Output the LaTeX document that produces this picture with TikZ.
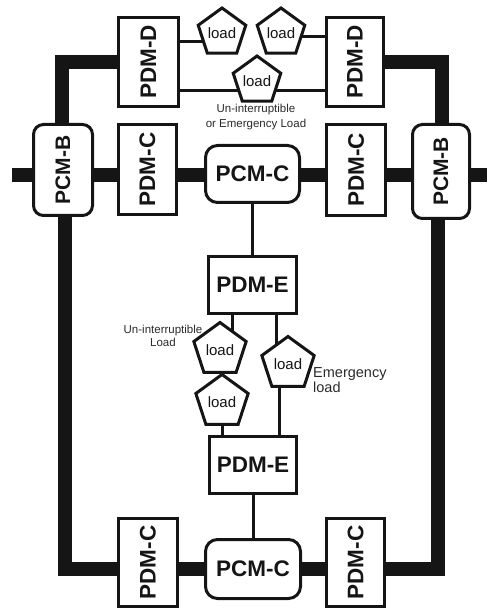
\documentclass[tikz,border=0pt]{standalone}
\usepackage{fontspec}
\setmainfont{Liberation Sans}
\usetikzlibrary{shapes.geometric}
\pgfdeclarelayer{bg}
\pgfsetlayers{bg,main}
\definecolor{ink}{HTML}{151515}
\definecolor{notegray}{HTML}{2A2A2A}
\tikzset{
  box/.style={draw=ink, line width=3pt, fill=white, inner sep=0pt,
    font=\bfseries\fontsize{22.5}{27}\selectfont, text=ink},
  pcm/.style={box, rounded corners=10pt},
  loadnode/.style={draw=ink, line width=3pt, fill=white, regular polygon,
    regular polygon sides=5, minimum size=50pt, inner sep=0pt,
    font=\fontsize{15}{17}\selectfont, text=ink},
  bigload/.style={loadnode, minimum size=55pt},
  bus/.style={draw=ink, line width=14pt, line join=miter},
  wire/.style={draw=ink, line width=3pt},
  note/.style={font=\fontsize{11.5}{15}\selectfont, text=notegray, align=center, inner sep=0pt}
}
\begin{document}
\begin{tikzpicture}[x=1pt,y=-1pt]
\useasboundingbox (0,0) rectangle (487,609);
% boxes
\node[box, minimum width=60pt, minimum height=89pt] (PDMDL) at (148.5,62) {\rotatebox{90}{PDM-D}};
\node[box, minimum width=57pt, minimum height=89pt] (PDMDR) at (355,62) {\rotatebox{90}{PDM-D}};
\node[pcm, minimum width=59pt, minimum height=91pt, font=\bfseries\fontsize{21}{25}\selectfont] (PCMBL) at (63,170) {\rotatebox{90}{PCM-B}};
\node[box, minimum width=58pt, minimum height=90pt] (PDMCL) at (147.5,169.5) {\rotatebox{90}{PDM-C}};
\node[pcm, rounded corners=12pt, minimum width=94pt, minimum height=57pt] (PCMC) at (252.5,174) {PCM-C};
\node[box, minimum width=59pt, minimum height=91pt] (PDMCR) at (356,170) {\rotatebox{90}{PDM-C}};
\node[pcm, minimum width=57pt, minimum height=94pt, font=\bfseries\fontsize{21}{25}\selectfont] (PCMBR) at (441,171.5) {\rotatebox{90}{PCM-B}};
\node[box, minimum width=88pt, minimum height=57pt] (PDMEA) at (252.5,285) {PDM-E};
\node[box, minimum width=87pt, minimum height=57pt] (PDMEB) at (253,465) {PDM-E};
\node[pcm, rounded corners=12pt, minimum width=95pt, minimum height=59pt] (PCMCB) at (253,569) {PCM-C};
\node[box, minimum width=59pt, minimum height=88pt] (PDMCLB) at (148,562.5) {\rotatebox{90}{PDM-C}};
\node[box, minimum width=58pt, minimum height=88pt] (PDMCRB) at (355.5,562.5) {\rotatebox{90}{PDM-C}};
% loads
\node[loadnode] (TL) at (222,33) {load};
\node[loadnode] (TR) at (281,33) {load};
\node[loadnode] (TM) at (257,81) {load};
\node[bigload] (ML) at (220,350) {load};
\node[bigload] (MR) at (288,364) {load};
\node[bigload] (MB) at (222,402) {load};
% notes
\node[note] (n1) at (256,117.5) {Un-interruptible\\or Emergency Load};
\node[note, font=\fontsize{11.5}{13}\selectfont] (n2) at (163,336) {Un-interruptible\\Load};
\node[note, anchor=west, align=left, font=\fontsize{14.5}{15}\selectfont] (n3) at (313,380.5) {Emergency\\load};
\coordinate (Lstub) at (12,175);
\coordinate (Rstub) at (487,175);
\begin{pgfonlayer}{bg}
% main bus
\draw[bus] (Lstub) -- (PCMBL.west |- Lstub);
\draw[bus] (PCMBL.east |- Lstub) -- (PDMCL.west |- Lstub);
\draw[bus] (PDMCL.east |- Lstub) -- (PCMC.west |- Lstub);
\draw[bus] (PCMC.east |- Lstub) -- (PDMCR.west |- Lstub);
\draw[bus] (PDMCR.east |- Lstub) -- (PCMBR.west |- Lstub);
\draw[bus] (PCMBR.east |- Lstub) -- (Rstub);
% upper loop
\draw[bus] (PCMBL.north -| 62,0) |- (PDMDL.west);
\draw[bus] (PDMDR.east) -| (PCMBR.north -| 442,0);
% lower loop
\draw[bus] (PCMBL.south -| 65,0) |- (PDMCLB.west |- PCMCB.center);
\draw[bus] (PDMCLB.east |- PCMCB.center) -- (PCMCB.west);
\draw[bus] (PCMCB.east) -- (PDMCRB.west |- PCMCB.center);
\draw[bus] (PDMCRB.east |- PCMCB.center) -| (PCMBR.south -| 438,0);
% wires
\draw[wire] (PDMDL.east |- 0,42) -- (TL.center |- 0,42);
\draw[wire] (TR.center |- 0,37) -- (PDMDR.west |- 0,37);
\draw[wire] (PDMDL.east |- 0,91) -- (PDMDR.west |- 0,91);
\draw[wire] (PCMC.south) -- (PDMEA.north);
\draw[wire] (PDMEA.south -| 232,0) -- (ML.center -| 232,0);
\draw[wire] (PDMEA.south -| 276,0) -- (MR.center -| 276,0);
\draw[wire] (MR.center -| 279,0) -- (PDMEB.north -| 279,0);
\draw[wire] (MB.center) -- (MB.center |- PDMEB.north);
\draw[wire] (PDMEB.south) -- (PCMCB.north);
\end{pgfonlayer}
\end{tikzpicture}
\end{document}
